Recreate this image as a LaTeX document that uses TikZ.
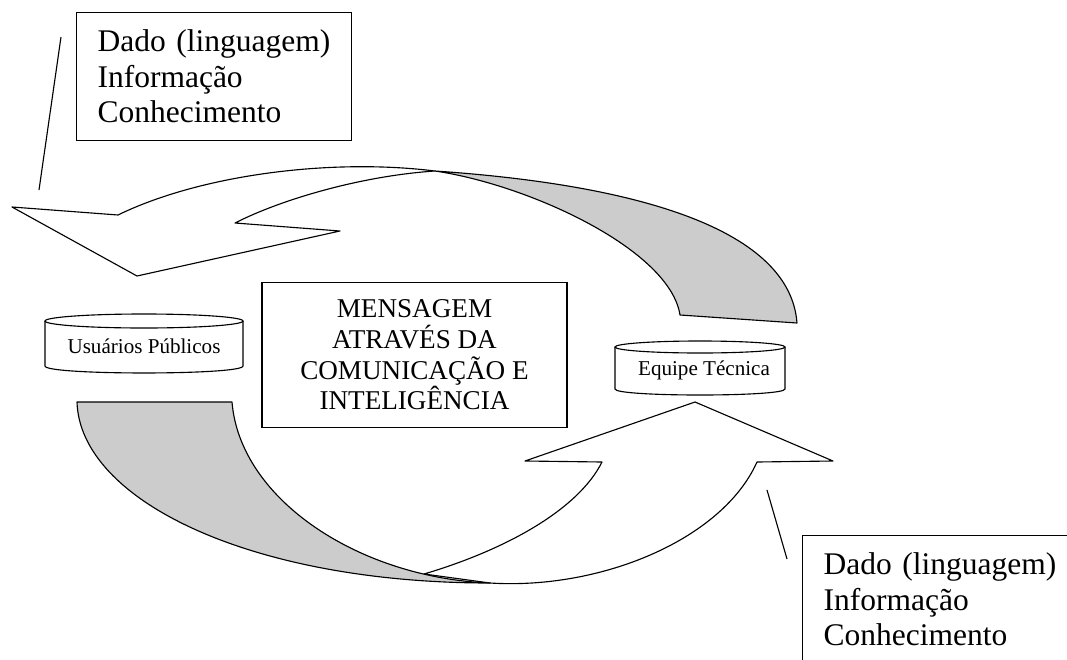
\documentclass[tikz,border=0pt]{standalone}
\usepackage{fontspec}
\setmainfont{Liberation Serif}
\usetikzlibrary{positioning}

\definecolor{backgray}{RGB}{204,204,204}

\begin{document}
\begin{tikzpicture}[x=0.025cm, y=-0.025cm, line width=0.8pt,
  infobox/.style={draw, anchor=north west, minimum width=6.875cm, minimum height=3.2cm,
    inner xsep=0.525cm, text width=5.825cm, align=left, font=\fontsize{22.4}{25.2}\selectfont},
  msgbox/.style={draw, minimum width=7.625cm, minimum height=3.625cm, align=center,
    font=\fontsize{19.3}{21.8}\selectfont},
  dblabel/.style={anchor=base, inner sep=0pt, font=\fontsize{15}{17}\selectfont},
  ribbon/.style={draw, fill=white, line join=round},
  ribbonback/.style={draw, fill=backgray, line join=round}]
\useasboundingbox (0,0) rectangle (1067,659);
\clip (0,0) rectangle (1067,659);
\fill[white] (0,0) rectangle (1067,659);

% boxes with the three levels
\node (infoTop) [infobox] at (76,12) {Dado (linguagem)\\Informação\\Conhecimento};
\node (infoBot) [infobox] at (802,535) {Dado (linguagem)\\Informação\\Conhecimento};
\node (msg) [msgbox] at (414.5,355) {MENSAGEM\\ATRAVÉS DA\\COMUNICAÇÃO E\\INTELIGÊNCIA};

% pointer lines
\coordinate (ptrTopA) at (61,37);
\coordinate (ptrTopB) at (39,190);
\coordinate (ptrBotA) at (767,490);
\coordinate (ptrBotB) at (787,559);
\draw (ptrTopA) -- (ptrTopB);
\draw (ptrBotA) -- (ptrBotB);

% upper curved arrow
\draw[ribbon] (118,215) .. controls (200,175) and (330,158) .. (435,171)
  .. controls (360,176) and (280,200) .. (235,223) -- (340,231) -- (137,276) -- (12,207) -- cycle;
\draw[ribbonback] (435,171) .. controls (640,185) and (790,230) .. (797,323) -- (680,315)
  .. controls (670,250) and (530,185) .. (435,171) -- cycle;

% lower curved arrow
\draw[ribbon] (424,574) .. controls (505,550) and (578,510) .. (602,462) -- (525,461) -- (695,402)
  -- (833,461) -- (757,462) .. controls (722,540) and (600,590) .. (490,583) -- cycle;
\draw[ribbonback] (77,402) -- (232,402) .. controls (240,500) and (360,578) .. (490,583)
  .. controls (250,583) and (80,500) .. (77,402) -- cycle;

% databases
\draw (45,321) -- (45,366) .. controls (45,375.3) and (243,375.3) .. (243,366) -- (243,321);
\draw (144,321) ellipse (99 and 7);
\node (usu) [dblabel] at (144,353) {Usuários Públicos};
\draw (615,347) -- (615,389) .. controls (615,397) and (785,397) .. (785,389) -- (785,347);
\draw (700,347) ellipse (85 and 6);
\node (equipe) [dblabel] at (704,375) {Equipe Técnica};
\end{tikzpicture}
\end{document}
